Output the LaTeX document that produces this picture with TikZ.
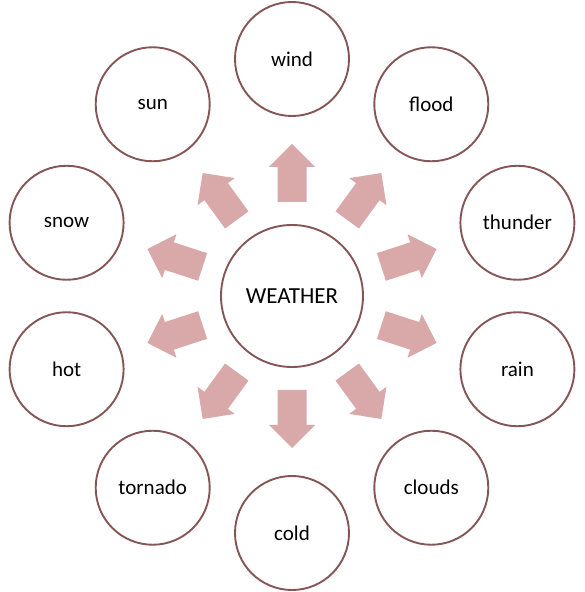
\documentclass[tikz,border=0pt]{standalone}
\usepackage{fontspec}
\setmainfont{Carlito}
\usetikzlibrary{calc}
\definecolor{ringcol}{HTML}{855656}
\definecolor{arrowcol}{HTML}{D9A8A8}
\tikzset{
  topic/.style={circle, draw=ringcol, line width=1.9pt, fill=white, minimum size=114pt, inner sep=0pt, font=\fontsize{21}{24}\selectfont},
  hub/.style={circle, draw=ringcol, line width=1.9pt, fill=white, minimum size=142pt, inner sep=0pt, font=\fontsize{23}{26}\selectfont},
  blockarrow/.style={fill=arrowcol}
}
\begin{document}
\begin{tikzpicture}[x=1pt,y=1pt]
\useasboundingbox (0,0) rectangle (584,592);
\fill[white] (0,0) rectangle (584,592);
\node[hub] (c) at (292,296) {WEATHER};
\foreach \nm/\txt/\ang in {wind/wind/90, flood/flood/54, thunder/thunder/18, rain/rain/-18, clouds/clouds/-54, cold/cold/-90, tornado/tornado/-126, hot/hot/-162, snow/snow/162, sun/sun/126}{
  \node[topic] (\nm) at ($(c.center)+(\ang:237)$) {\txt};
  \fill[blockarrow, shift={(c.center)}, rotate=\ang]
    (94,-14.5) -- (129,-14.5) -- (129,-23) -- (152,0) -- (129,23) -- (129,14.5) -- (94,14.5) -- cycle;
}
\end{tikzpicture}
\end{document}
